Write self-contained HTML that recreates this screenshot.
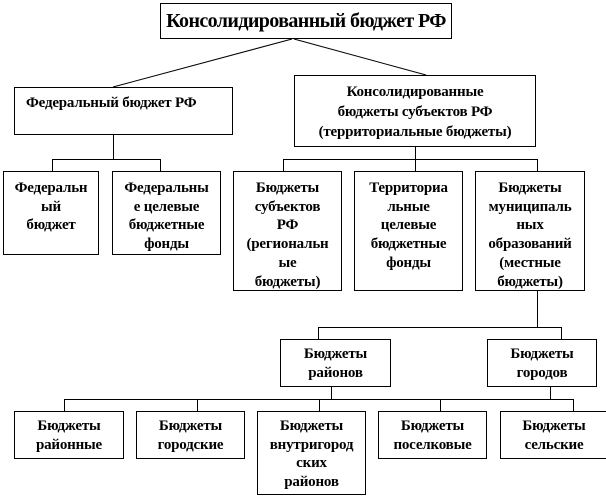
<!DOCTYPE html>
<html><head><meta charset="utf-8"><style>
body{margin:0;width:606px;height:498px;background:#fff;position:relative;overflow:hidden;}
.b{position:absolute;border:1px solid #000;box-sizing:border-box;text-align:center;font-family:"Liberation Serif","Times New Roman",serif;font-weight:bold;font-size:15px;line-height:18.7px;color:#000;white-space:nowrap;letter-spacing:-0.2px;}
.l{position:absolute;background:#000;}
svg{position:absolute;left:0;top:0;}
</style></head><body>
<svg width="606" height="498"><line x1="292" y1="39" x2="113" y2="87" stroke="#000" stroke-width="1"/><line x1="294" y1="39" x2="426" y2="75" stroke="#000" stroke-width="1"/></svg>
<div class="b" style="left:160px;top:3px;width:292px;height:36px;font-size:20px;line-height:34px;letter-spacing:-0.6px;">Консолидированный бюджет РФ</div>
<div class="b" style="left:14px;top:87px;width:219px;height:48px;padding-top:6px;text-align:left;padding-left:11px;">Федеральный бюджет РФ</div>
<div class="b" style="left:294px;top:75px;width:242px;height:72px;padding-top:6px;line-height:20px;">Консолидированные<br>бюджеты субъектов РФ<br>(территориальные бюджеты)</div>
<div class="l" style="left:113px;top:135px;width:1px;height:24px"></div>
<div class="l" style="left:52px;top:159px;width:109px;height:1px"></div>
<div class="l" style="left:52px;top:159px;width:1px;height:12px"></div>
<div class="l" style="left:160px;top:159px;width:1px;height:12px"></div>
<div class="l" style="left:415px;top:147px;width:1px;height:12px"></div>
<div class="l" style="left:283px;top:159px;width:255px;height:1px"></div>
<div class="l" style="left:283px;top:159px;width:1px;height:12px"></div>
<div class="l" style="left:415px;top:159px;width:1px;height:12px"></div>
<div class="l" style="left:537px;top:159px;width:1px;height:12px"></div>
<div class="b" style="left:3px;top:171px;width:96px;height:84px;padding-top:7px;">Федеральн<br>ый<br>бюджет</div>
<div class="b" style="left:112px;top:171px;width:109px;height:84px;padding-top:7px;">Федеральны<br>е целевые<br>бюджетные<br>фонды</div>
<div class="b" style="left:233px;top:171px;width:109px;height:120px;padding-top:7px;">Бюджеты<br>субъектов<br>РФ<br>(региональн<br>ые<br>бюджеты)</div>
<div class="b" style="left:354px;top:171px;width:109px;height:120px;padding-top:7px;">Территориа<br>льные<br>целевые<br>бюджетные<br>фонды</div>
<div class="b" style="left:475px;top:171px;width:110px;height:120px;padding-top:7px;">Бюджеты<br>муниципаль<br>ных<br>образований<br>(местные<br>бюджеты)</div>
<div class="l" style="left:537px;top:291px;width:1px;height:36px"></div>
<div class="l" style="left:318px;top:327px;width:244px;height:1px"></div>
<div class="l" style="left:318px;top:327px;width:1px;height:12px"></div>
<div class="l" style="left:561px;top:327px;width:1px;height:12px"></div>
<div class="b" style="left:280px;top:339px;width:111px;height:48px;padding-top:5px;">Бюджеты<br>районов</div>
<div class="b" style="left:487px;top:339px;width:110px;height:48px;padding-top:5px;">Бюджеты<br>городов</div>
<div class="l" style="left:331px;top:387px;width:1px;height:12px"></div>
<div class="l" style="left:550px;top:387px;width:1px;height:12px"></div>
<div class="l" style="left:64px;top:399px;width:510px;height:1px"></div>
<div class="l" style="left:64px;top:399px;width:1px;height:12px"></div>
<div class="l" style="left:197px;top:399px;width:1px;height:12px"></div>
<div class="l" style="left:319px;top:399px;width:1px;height:12px"></div>
<div class="l" style="left:440px;top:399px;width:1px;height:12px"></div>
<div class="l" style="left:573px;top:399px;width:1px;height:12px"></div>
<div class="b" style="left:14px;top:411px;width:110px;height:48px;padding-top:5px;">Бюджеты<br>районные</div>
<div class="b" style="left:136px;top:411px;width:109px;height:48px;padding-top:5px;">Бюджеты<br>городские</div>
<div class="b" style="left:257px;top:411px;width:109px;height:84px;padding-top:5px;">Бюджеты<br>внутригород<br>ских<br>районов</div>
<div class="b" style="left:378px;top:411px;width:109px;height:48px;padding-top:5px;">Бюджеты<br>поселковые</div>
<div class="b" style="left:500px;top:411px;width:108px;height:48px;padding-top:5px;">Бюджеты<br>сельские</div>
</body></html>
